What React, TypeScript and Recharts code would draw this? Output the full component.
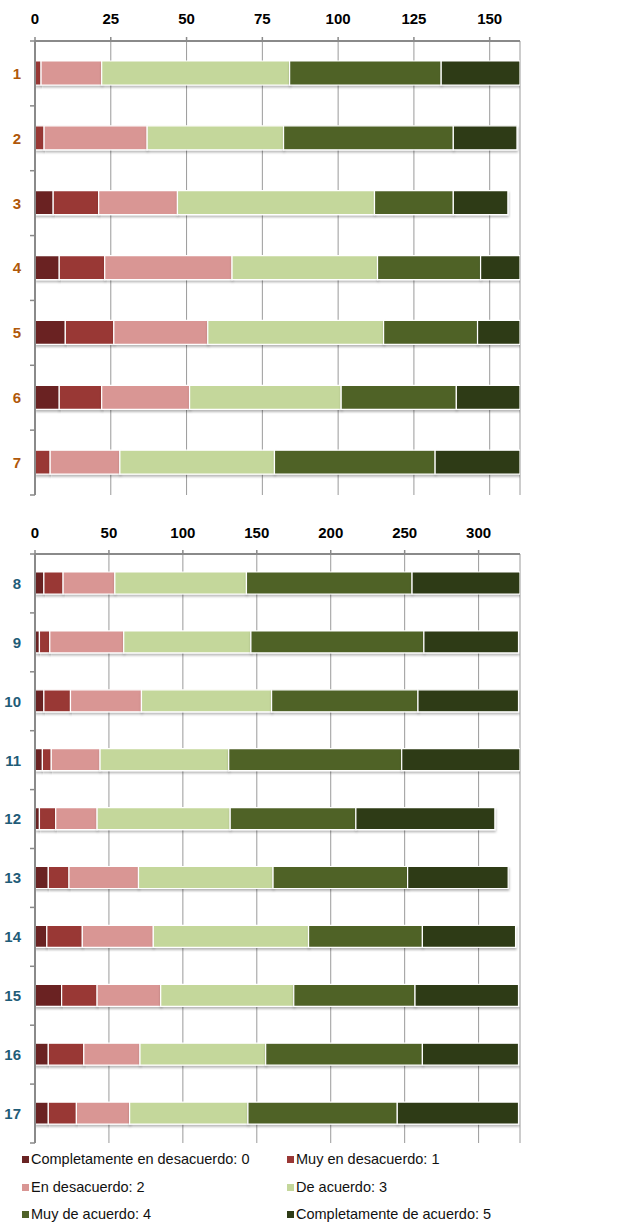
import React from 'react';
import { BarChart, Bar, XAxis, YAxis, CartesianGrid } from 'recharts';

// ---------- data ----------
const seriesNames = [
  'Completamente en desacuerdo: 0',
  'Muy en desacuerdo: 1',
  'En desacuerdo: 2',
  'De acuerdo: 3',
  'Muy de acuerdo: 4',
  'Completamente de acuerdo: 5',
];
const seriesColors = ['#6a2424', '#993735', '#d99694', '#c4d79b', '#4f6228', '#2e3b16'];

const topCategories = ['1', '2', '3', '4', '5', '6', '7'];
const topS0 = [0, 0, 6, 8, 10, 8, 0];
const topS1 = [2, 3, 15, 15, 16, 14, 5];
const topS2 = [20, 34, 26, 42, 31, 29, 23];
const topS3 = [62, 45, 65, 48, 58, 50, 51];
const topS4 = [50, 56, 26, 34, 31, 38, 53];
const topS5 = [26, 21, 18, 13, 14, 21, 28];
const topTicks = [0, 25, 50, 75, 100, 125, 150];
const topDomainMax = 160;

const bottomCategories = ['8', '9', '10', '11', '12', '13', '14', '15', '16', '17'];
const botS0 = [6, 3, 6, 5, 3, 9, 8, 18, 9, 9];
const botS1 = [13, 7, 18, 6, 11, 14, 24, 24, 24, 19];
const botS2 = [35, 50, 48, 33, 28, 47, 48, 43, 38, 36];
const botS3 = [89, 86, 88, 87, 90, 91, 105, 90, 85, 80];
const botS4 = [112, 117, 99, 117, 85, 91, 77, 82, 106, 101];
const botS5 = [73, 64, 68, 80, 94, 68, 63, 70, 65, 82];
const bottomTicks = [0, 50, 100, 150, 200, 250, 300];
const bottomDomainMax = 328;

const keys = ['s0', 's1', 's2', 's3', 's4', 's5'];

function buildRows(cats: string[], series: number[][]) {
  return cats.map((c, i) => {
    const row: any = { cat: c };
    series.forEach((s, k) => {
      row[keys[k]] = s[i];
    });
    return row;
  });
}

const topData = buildRows(topCategories, [topS0, topS1, topS2, topS3, topS4, topS5]);
const bottomData = buildRows(bottomCategories, [botS0, botS1, botS2, botS3, botS4, botS5]);

const FONT = "'Liberation Sans', Arial, sans-serif";
const AXIS_COLOR = '#8a8a8a';

function makeYTick(band: number, n: number, color: string) {
  return (props: any) => {
    const { x, y, payload, index } = props;
    return (
      <g>
        <line x1={x - 5} x2={x} y1={y - band / 2} y2={y - band / 2} stroke={AXIS_COLOR} strokeWidth={1.5} />
        {index === n - 1 && (
          <line x1={x - 5} x2={x} y1={y + band / 2} y2={y + band / 2} stroke={AXIS_COLOR} strokeWidth={1.5} />
        )}
        <text
          x={x - 14}
          y={y}
          dy="0.36em"
          textAnchor="end"
          fill={color}
          fontWeight="bold"
          fontSize={15}
          fontFamily={FONT}
        >
          {payload.value}
        </text>
      </g>
    );
  };
}

type ChartProps = {
  id: string;
  data: any[];
  height: number;
  axisHeight: number;
  bottomMargin: number;
  domainMax: number;
  ticks: number[];
  labelColor: string;
  barSize: number;
  tickMargin: number;
};

function StackChart(p: ChartProps) {
  const n = p.data.length;
  const plotH = p.height - p.axisHeight - p.bottomMargin;
  const band = plotH / n;
  return (
    <BarChart
      width={618}
      height={p.height}
      data={p.data}
      layout="vertical"
      margin={{ top: 0, right: 98, bottom: p.bottomMargin, left: 0 }}
      barSize={p.barSize}
    >
      <defs>
        <filter id={`shadow-${p.id}`} x="-5%" y="-30%" width="110%" height="180%">
          <feDropShadow dx="0.5" dy="2" stdDeviation="1.2" floodColor="#000" floodOpacity="0.28" />
        </filter>
      </defs>
      <CartesianGrid vertical horizontal={false} stroke="#9a9a9a" strokeWidth={1} />
      <XAxis
        type="number"
        orientation="top"
        domain={[0, p.domainMax]}
        ticks={p.ticks}
        height={p.axisHeight}
        axisLine={{ stroke: AXIS_COLOR, strokeWidth: 2 }}
        tickLine={{ stroke: AXIS_COLOR, strokeWidth: 1.5 }}
        tickSize={4}
        tickMargin={p.tickMargin}
        tick={{ fill: '#000', fontSize: 15, fontWeight: 'bold', fontFamily: FONT }}
        allowDataOverflow
      />
      <YAxis
        type="category"
        dataKey="cat"
        width={35}
        interval={0}
        axisLine={{ stroke: AXIS_COLOR, strokeWidth: 2 }}
        tickLine={false}
        tickSize={0}
        tickMargin={0}
        tick={makeYTick(band, n, p.labelColor)}
      />
      {keys.map((k, i) => (
        <Bar
          key={k}
          dataKey={k}
          name={seriesNames[i]}
          stackId="a"
          fill={seriesColors[i]}
          stroke="#ffffff"
          strokeWidth={1.2}
          filter={`url(#shadow-${p.id})`}
          isAnimationActive={false}
        />
      ))}
    </BarChart>
  );
}

function Legend() {
  const positions = [
    [22, 1159],
    [287, 1159],
    [22, 1187],
    [287, 1187],
    [22, 1214],
    [287, 1214],
  ];
  return (
    <>
      {seriesNames.map((name, i) => (
        <div
          key={name}
          style={{
            position: 'absolute',
            left: positions[i][0],
            top: positions[i][1] - 10,
            height: 20,
            display: 'flex',
            alignItems: 'center',
            fontFamily: FONT,
            fontSize: 14.5,
            color: '#111',
            whiteSpace: 'nowrap',
          }}
        >
          <span
            style={{
              display: 'inline-block',
              width: 7,
              height: 7,
              background: seriesColors[i],
              marginRight: 2,
            }}
          />
          <span>{name}</span>
        </div>
      ))}
    </>
  );
}

export default function App() {
  return (
    <div style={{ position: 'absolute', left: 0, top: 0, width: 618, height: 1225, background: '#fff', overflow: 'hidden' }}>
      <div style={{ position: 'absolute', left: 0, top: 0 }}>
        <StackChart
          id="top"
          data={topData}
          height={500}
          axisHeight={41}
          bottomMargin={5}
          domainMax={topDomainMax}
          ticks={topTicks}
          labelColor="#b0580a"
          barSize={24}
          tickMargin={13}
        />
      </div>
      <div style={{ position: 'absolute', left: 0, top: 500 }}>
        <StackChart
          id="bottom"
          data={bottomData}
          height={645}
          axisHeight={54}
          bottomMargin={2}
          domainMax={bottomDomainMax}
          ticks={bottomTicks}
          labelColor="#1f5c78"
          barSize={22}
          tickMargin={12}
        />
      </div>
      <Legend />
    </div>
  );
}
